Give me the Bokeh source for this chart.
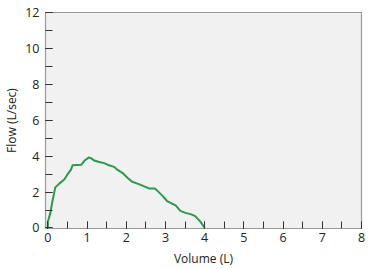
from bokeh.plotting import figure
from bokeh.models import SingleIntervalTicker, Range1d
from bokeh.embed import file_html
from bokeh.resources import INLINE

volume = [0.0, 0.0, 0.06, 0.12, 0.19, 0.29, 0.42, 0.5, 0.59, 0.63, 0.85, 0.93, 1.04, 1.1, 1.18,
          1.31, 1.44, 1.56, 1.69, 1.77, 1.9, 2.03, 2.15, 2.32, 2.49, 2.58, 2.73, 2.79, 2.92,
          3.04, 3.17, 3.26, 3.38, 3.51, 3.64, 3.76, 3.89, 4.0]
flow = [0.0, 0.35, 0.8, 1.53, 2.26, 2.47, 2.7, 2.98, 3.25, 3.49, 3.52, 3.74, 3.92, 3.89, 3.76,
        3.67, 3.61, 3.49, 3.4, 3.25, 3.07, 2.8, 2.57, 2.44, 2.29, 2.2, 2.2, 2.08, 1.8,
        1.5, 1.35, 1.26, 0.95, 0.84, 0.77, 0.66, 0.35, 0.0]

FONT = "Open Sans"

p = figure(width=375, height=269, output_backend="svg", toolbar_location=None,
           x_range=Range1d(-0.06, 8.0), y_range=Range1d(-0.03, 12.0),
           min_border_left=45, min_border_right=14, min_border_top=12, min_border_bottom=38)
p.background_fill_color = "#f1f1f1"
p.border_fill_color = "white"
p.outline_line_color = "#9a9a9a"
p.outline_line_width = 1.2
p.grid.visible = False

p.line(volume, flow, line_color="#2a9a4c", line_width=2)

p.xaxis.ticker = SingleIntervalTicker(interval=1, num_minor_ticks=2)
p.yaxis.ticker = SingleIntervalTicker(interval=2, num_minor_ticks=2)
for ax in (p.xaxis[0], p.yaxis[0]):
    ax.axis_line_color = None
    ax.major_tick_in = 7
    ax.major_tick_out = 0
    ax.minor_tick_in = 7
    ax.minor_tick_out = 0
    ax.major_tick_line_color = "#333333"
    ax.minor_tick_line_color = "#333333"
    ax.major_label_text_font = FONT
    ax.major_label_text_font_size = "12.5px"
    ax.major_label_text_color = "#222222"
    ax.axis_label_text_font = FONT
    ax.axis_label_text_font_size = "12px"
    ax.axis_label_text_font_style = "normal"
    ax.axis_label_text_color = "#222222"

p.xaxis.axis_label = "Volume (L)"
p.yaxis.axis_label = "Flow (L/sec)"
p.xaxis.major_label_standoff = 4
p.yaxis.major_label_standoff = 6
p.xaxis.axis_label_standoff = 5
p.yaxis.axis_label_standoff = 2

open("out.html", "w").write(file_html(p, INLINE))
